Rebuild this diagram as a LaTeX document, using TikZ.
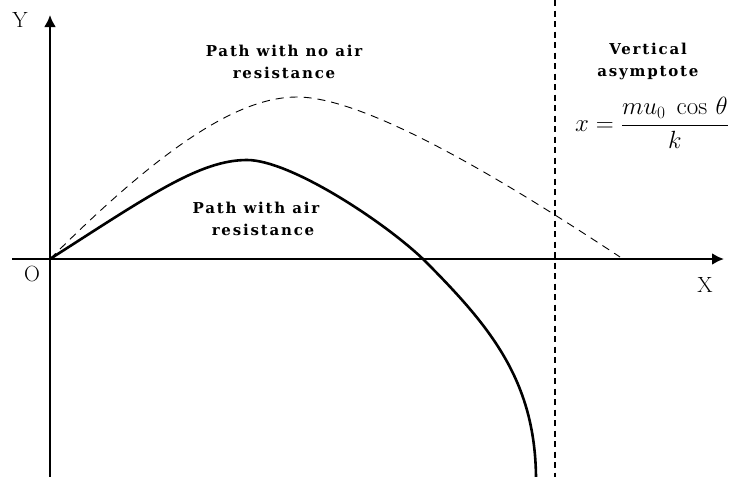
\documentclass[tikz,border=0pt]{standalone}
\usepackage{amsmath}
\usepackage{fontspec}
\newfontfamily\capfont[LetterSpace=12]{DejaVu Serif}
\usetikzlibrary{arrows.meta}

\tikzset{
  caption/.style={font=\capfont\bfseries\fontsize{15}{22}\selectfont, align=center, inner sep=0pt},
  axislabel/.style={font=\fontsize{22}{22}\selectfont, inner sep=0pt},
  axis/.style={line width=2.6pt, -{Latex[length=12pt,width=12pt]}}
}

\begin{document}
\begin{tikzpicture}[x=1pt,y=-1pt]
\useasboundingbox (0,0) rectangle (732,477);
\coordinate (O) at (50,259);
\coordinate (xstart) at (12,259);
\coordinate (xend) at (724,259);
\coordinate (ybot) at (50,477);
\coordinate (ytop) at (50,15);
\coordinate (atop) at (555,0);
\coordinate (abot) at (555,477);
\coordinate (top1) at (297,97);
\coordinate (land1) at (620,257);
\coordinate (top2) at (247,160);
\coordinate (cross2) at (423,259);
\coordinate (low2) at (536,477);
\node[axislabel] (ylab) at (20,20) {Y};
\node[axislabel] (olab) at (32,274) {O};
\node[axislabel] (xlab) at (705,285) {X};
\node[caption] (noair) at (284,62) {Path with no air\\resistance};
\node[caption] (air) at (256,219) {Path with air\\\hspace*{14pt}resistance};
\node[caption] (asym) at (648,61) {Vertical\\asymptote};
\node[inner sep=0pt] (formula) at (652,123) {\fontsize{25}{30}\selectfont$x=\dfrac{mu_0\;\cos\,\theta}{k}$};
\draw[line width=1.3pt, dash pattern=on 6pt off 4.5pt] (atop) -- (abot);
\draw[axis] (xstart) -- (xend);
\draw[axis] (ybot) -- (ytop);
\draw[line width=0.9pt, dash pattern=on 8pt off 6pt] (O) .. controls (165,144) and (240,97) .. (top1)
  .. controls (370,97) and (520,191) .. (land1);
\draw[line width=2.6pt] (O) .. controls (150,195) and (200,160) .. (top2)
  .. controls (290,160) and (383,221) .. (cross2)
  .. controls (490,326) and (535,380) .. (low2);
\end{tikzpicture}
\end{document}
